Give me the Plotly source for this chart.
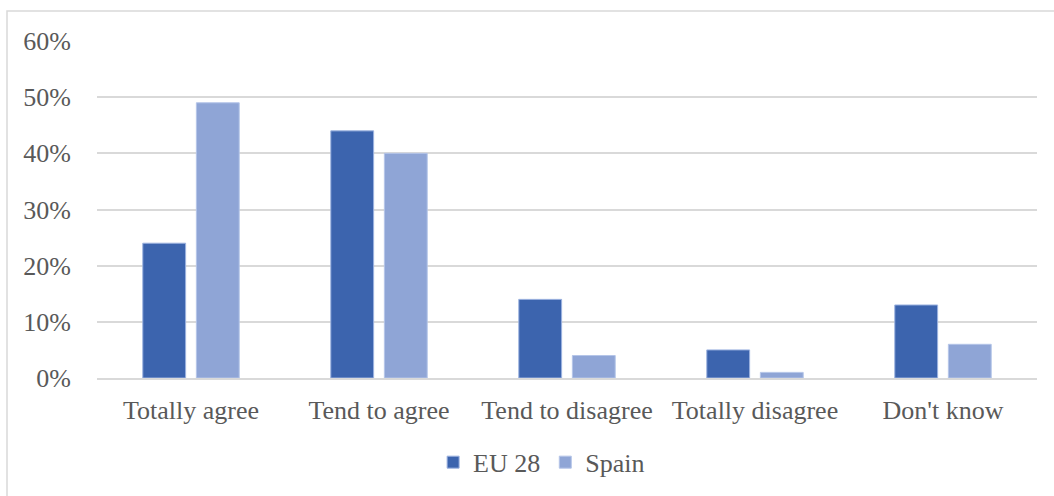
import plotly.graph_objects as go

categories = ["Totally agree", "Tend to agree", "Tend to disagree", "Totally disagree", "Don't know"]
eu28 = [24, 44, 14, 5, 13]
spain = [49, 40, 4, 1, 6]
y_ticks = [0, 10, 20, 30, 40, 50, 60]
y_tick_labels = [f"{v}%" for v in y_ticks]

FONT = "Liberation Serif"
TEXT = "#595959"

fig = go.Figure()
fig.add_trace(go.Bar(
    name="EU 28", x=categories, y=eu28,
    marker=dict(color="#3C64AE", line=dict(color="#9DB3E0", width=1)),
))
fig.add_trace(go.Bar(
    name="Spain", x=categories, y=spain,
    marker=dict(color="#8FA5D6", line=dict(color="#B5C5E8", width=1)),
))

W, H = 1054, 496
L, R, T, B = 97, 17, 41, 118

fig.update_layout(
    width=W, height=H,
    margin=dict(l=L, r=R, t=T, b=B, autoexpand=False),
    paper_bgcolor="white", plot_bgcolor="white",
    barmode="group", bargap=0.43, bargroupgap=0.2,
    font=dict(family=FONT, size=26, color=TEXT),
    showlegend=True,
    legend=dict(
        orientation="h", x=0.473, xanchor="center", y=-0.25, yanchor="middle",
        font=dict(family=FONT, size=26, color=TEXT), itemwidth=30,
    ),
    xaxis=dict(
        automargin=False,
        showgrid=False, showline=True, linecolor="#D9D9D9", linewidth=2,
        ticks="", ticklabelstandoff=8,
        tickfont=dict(family=FONT, size=26, color=TEXT),
    ),
    yaxis=dict(
        automargin=False,
        range=[0, 60], tickvals=y_ticks, ticktext=y_tick_labels,
        showgrid=True, gridcolor="#D9D9D9", gridwidth=1.5,
        zeroline=False, showline=False, ticks="", ticklabelstandoff=25,
        tickfont=dict(family=FONT, size=26, color=TEXT),
    ),
    shapes=[dict(
        type="rect", xref="paper", yref="paper",
        x0=(7 - L) / (W - L - R), x1=1.1,
        y0=-0.6, y1=1 + (T - 11) / (H - T - B),
        line=dict(color="#D9D9D9", width=1.5), fillcolor="rgba(0,0,0,0)", layer="below",
    )],
)

fig.write_html("out.html")
